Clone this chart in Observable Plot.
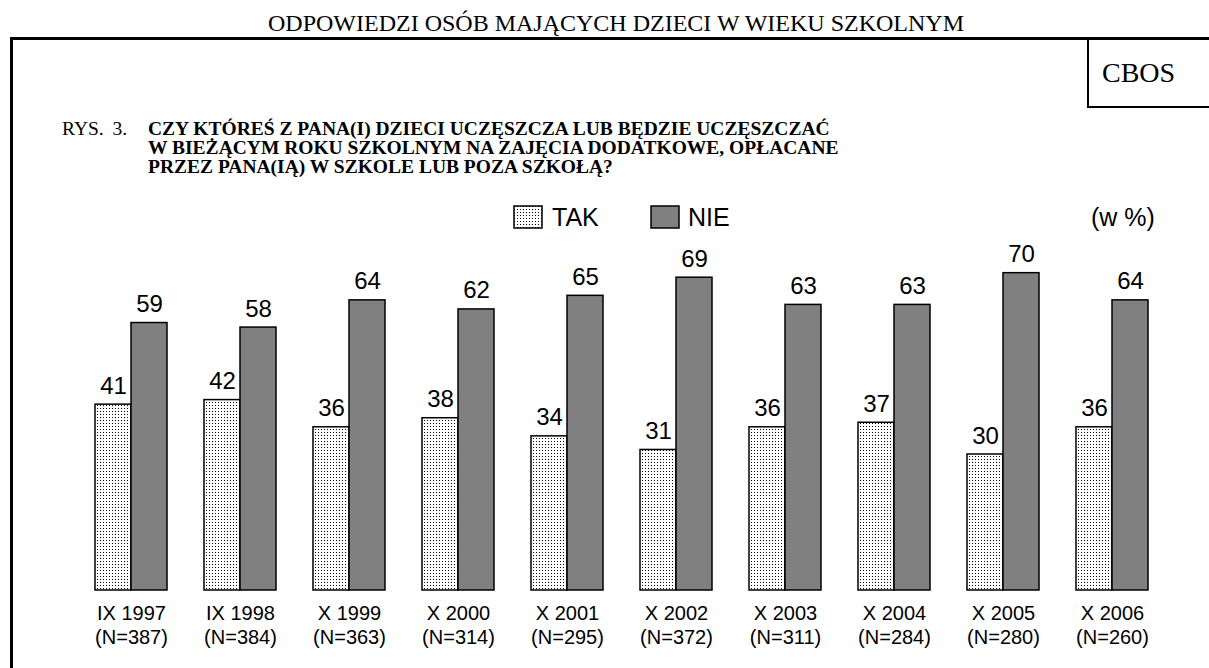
<!DOCTYPE html>
<html>
<head>
<meta charset="utf-8">
<script src="https://cdn.jsdelivr.net/npm/d3@7"></script>
<script src="https://cdn.jsdelivr.net/npm/@observablehq/plot@0.6"></script>
<style>
  html, body { margin: 0; padding: 0; background: #fff; }
  #wrap { position: relative; width: 1209px; height: 668px; overflow: hidden; background: #fff; }
  .serif { font-family: "Liberation Serif", "Times New Roman", serif; color: #000; }
  .sans { font-family: "Liberation Sans", Arial, sans-serif; color: #000; }
  .abs { position: absolute; white-space: nowrap; line-height: 1; }
  #frame { position: absolute; left: 10px; top: 37px; width: 1210px; height: 640px; border-top: 3px solid #000; border-left: 3px solid #000; box-sizing: border-box; }
  #cbosbox { position: absolute; left: 1087px; top: 38px; width: 130px; height: 70px; border-left: 2px solid #000; border-bottom: 2px solid #000; box-sizing: border-box; }
  #chart { position: absolute; left: 0; top: 230px; }
</style>
</head>
<body>
<svg width="0" height="0" style="position:absolute">
  <defs>
    <pattern id="dots" width="3" height="3" patternUnits="userSpaceOnUse">
      <rect width="3" height="3" fill="#fff"></rect>
      <rect x="1" y="1" width="1" height="1" fill="#000"></rect>
    </pattern>
  </defs>
</svg>
<div id="wrap">
  <div class="abs serif" style="left:0;width:1232px;text-align:center;top:11px;font-size:24px;">ODPOWIEDZI OSÓB MAJĄCYCH DZIECI W WIEKU SZKOLNYM</div>
  <div id="frame"></div>
  <div id="cbosbox"></div>
  <div class="abs serif" style="left:1102px;top:59px;font-size:28px;">CBOS</div>
  <div class="abs serif" style="left:62px;top:119px;font-size:19.5px;word-spacing:4px;">RYS. 3.</div>
  <div class="abs serif" style="left:148px;top:119px;font-size:19.5px;font-weight:bold;line-height:19px;">CZY KTÓREŚ Z PANA(I) DZIECI UCZĘSZCZA LUB BĘDZIE UCZĘSZCZAĆ<br>W BIEŻĄCYM ROKU SZKOLNYM NA ZAJĘCIA DODATKOWE, OPŁACANE<br>PRZEZ PANA(IĄ) W SZKOLE LUB POZA SZKOŁĄ?</div>
  <div class="abs sans" style="left:513px;top:203px;font-size:25px;">
    <svg width="30" height="24" style="vertical-align:middle"><rect x="1" y="1" width="28" height="22" fill="url(#dots)" stroke="#000" stroke-width="1.5"></rect></svg><span style="margin-left:9px;vertical-align:middle">TAK</span>
  </div>
  <div class="abs sans" style="left:650px;top:203px;font-size:25px;">
    <svg width="30" height="24" style="vertical-align:middle"><rect x="1" y="1" width="28" height="22" fill="#808080" stroke="#000" stroke-width="1.5"></rect></svg><span style="margin-left:8px;vertical-align:middle">NIE</span>
  </div>
  <div class="abs sans" style="left:1091px;top:205px;font-size:25px;">(w %)</div>
  <div id="chart"></div>
</div>
<script>
const periods = ["IX 1997", "IX 1998", "X 1999", "X 2000", "X 2001", "X 2002", "X 2003", "X 2004", "X 2005", "X 2006"];
const sampleN = [387, 384, 363, 314, 295, 372, 311, 284, 280, 260];
const takValues = [41, 42, 36, 38, 34, 31, 36, 37, 30, 36];
const nieValues = [59, 58, 64, 62, 65, 69, 63, 63, 70, 64];
const seriesNames = ["TAK", "NIE"];

const rows = periods.flatMap((p, i) => [
  {period: p, series: "TAK", value: takValues[i]},
  {period: p, series: "NIE", value: nieValues[i]}
]);

const chart = Plot.plot({
  width: 1209,
  height: 438,
  marginLeft: 92,
  marginRight: 57,
  marginTop: 20,
  marginBottom: 78,
  style: {fontFamily: "'Liberation Sans', Arial, sans-serif", fontSize: "20px", color: "#000", background: "transparent", overflow: "visible"},
  fx: {domain: periods, padding: 0.338, label: null},
  x: {domain: seriesNames, padding: 0, axis: null},
  y: {domain: [0, 75], axis: null},
  marks: [
    Plot.barY(rows.filter(d => d.series === "TAK"), {fx: "period", x: "series", y: "value", fill: "url(#dots)", stroke: "#000", strokeWidth: 1.5}),
    Plot.barY(rows.filter(d => d.series === "NIE"), {fx: "period", x: "series", y: "value", fill: "#808080", stroke: "#000", strokeWidth: 1.5}),
    Plot.text(rows, {fx: "period", x: "series", y: "value", text: d => String(d.value), lineAnchor: "bottom", dy: -11, fontSize: 24, fill: "#000"}),
    Plot.axisFx({anchor: "bottom", tickSize: 0, tickPadding: 12, fontSize: 20, lineHeight: 1.2, label: null,
      tickFormat: p => p + "\n(N=" + sampleN[periods.indexOf(p)] + ")"})
  ]
});
document.getElementById("chart").appendChild(chart);
</script>
</body>
</html>
